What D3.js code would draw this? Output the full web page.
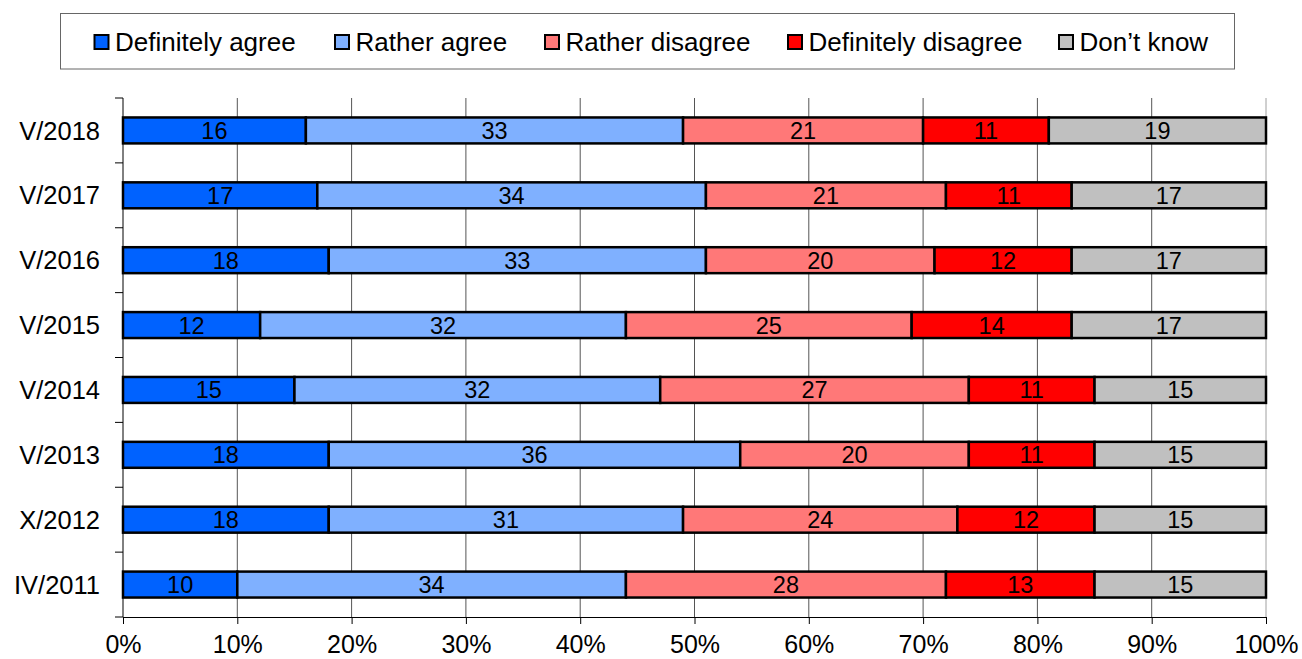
<!DOCTYPE html>
<html>
<head>
<meta charset="utf-8">
<script src="https://cdn.jsdelivr.net/npm/d3@7"></script>
<style>
  body { margin: 0; background: #fff; }
  svg { display: block; font-family: "Liberation Sans", Arial, sans-serif; }
</style>
</head>
<body>
<svg id="chart" width="1302" height="659"></svg>
<script>
// Survey waves, top to bottom
const periods = ["V/2018", "V/2017", "V/2016", "V/2015", "V/2014", "V/2013", "X/2012", "IV/2011"];

// Answer categories and their fill colours
const answers = ["Definitely agree", "Rather agree", "Rather disagree", "Definitely disagree", "Don\u2019t know"];
const colors = ["#0062ff", "#7fb0ff", "#ff7878", "#ff0000", "#c0c0c0"];

// Shares (%) per wave, one array per answer
const definitelyAgree    = [16, 17, 18, 12, 15, 18, 18, 10];
const ratherAgree        = [33, 34, 33, 32, 32, 36, 31, 34];
const ratherDisagree     = [21, 21, 20, 25, 27, 20, 24, 28];
const definitelyDisagree = [11, 11, 12, 14, 11, 11, 12, 13];
const dontKnow           = [19, 17, 17, 17, 15, 15, 15, 15];

const xTicks = [0, 10, 20, 30, 40, 50, 60, 70, 80, 90, 100];

const seriesValues = [definitelyAgree, ratherAgree, ratherDisagree, definitelyDisagree, dontKnow];
const rows = periods.map((p, i) => {
  const r = { period: p };
  answers.forEach((a, k) => { r[a] = seriesValues[k][i]; });
  return r;
});

const svg = d3.select("#chart");
const margin = { left: 123, right: 36, top: 98, bottom: 42 };
const W = 1302, H = 659;

const x = d3.scaleLinear().domain([0, 100]).range([margin.left, W - margin.right]);
const y = d3.scaleBand().domain(periods).range([margin.top, H - margin.bottom]).paddingInner(0.6).paddingOuter(0.3);
const yb = d3.scaleBand().domain(periods).range([margin.top, H - margin.bottom]);

// Vertical gridlines
svg.append("g")
  .selectAll("line")
  .data(xTicks.slice(1))
  .join("line")
  .attr("x1", d => x(d)).attr("x2", d => x(d))
  .attr("y1", margin.top).attr("y2", H - margin.bottom)
  .attr("stroke", d => d === 100 ? "#a0a0a0" : "#555")
  .attr("stroke-width", 1);

// Stacked bars
const stack = d3.stack().keys(answers)(rows);
const layer = svg.append("g").selectAll("g")
  .data(stack)
  .join("g")
  .attr("fill", (d, i) => colors[i]);

layer.selectAll("rect")
  .data(d => d)
  .join("rect")
  .attr("x", d => x(d[0]))
  .attr("y", d => y(d.data.period))
  .attr("width", d => x(d[1]) - x(d[0]))
  .attr("height", y.bandwidth())
  .attr("stroke", "#000")
  .attr("stroke-width", 2.5);

// Value labels in each segment
layer.selectAll("text")
  .data(d => d.map(v => ({ v, key: d.key })))
  .join("text")
  .attr("x", d => (x(d.v[0]) + x(d.v[1])) / 2)
  .attr("y", d => y(d.v.data.period) + y.bandwidth() / 2)
  .attr("dy", "0.36em")
  .attr("text-anchor", "middle")
  .attr("fill", "#000")
  .attr("font-size", 23.5)
  .text(d => d.v.data[d.key]);

// Y axis
const yAxis = svg.append("g");
yAxis.append("line")
  .attr("x1", margin.left).attr("x2", margin.left)
  .attr("y1", margin.top).attr("y2", H - margin.bottom)
  .attr("stroke", "#000");
yAxis.selectAll("line.tick")
  .data(periods.map(p => yb(p)).concat([H - margin.bottom]))
  .join("line")
  .attr("class", "tick")
  .attr("x1", margin.left - 8).attr("x2", margin.left)
  .attr("y1", d => d).attr("y2", d => d)
  .attr("stroke", "#000");
yAxis.selectAll("text")
  .data(periods)
  .join("text")
  .attr("x", 100)
  .attr("y", d => yb(d) + yb.bandwidth() / 2)
  .attr("dy", "0.36em")
  .attr("text-anchor", "end")
  .attr("font-size", 25.5)
  .text(d => d);

// X axis
const xAxis = svg.append("g")
  .attr("transform", `translate(0,${H - margin.bottom})`)
  .call(d3.axisBottom(x).tickValues(xTicks).tickFormat(d => d + "%").tickSize(7).tickPadding(11));
xAxis.select(".domain").attr("stroke", "#000");
xAxis.selectAll(".tick line").attr("stroke", "#000");
xAxis.selectAll("text")
  .attr("font-size", 25)
  .attr("font-family", "'Liberation Sans', Arial, sans-serif")
  .attr("fill", "#000");

// Legend
const legend = svg.append("g");
legend.append("rect")
  .attr("x", 60.5).attr("y", 13.5)
  .attr("width", 1174).attr("height", 55.5)
  .attr("fill", "#fff")
  .attr("stroke", "#666");
const legendX = [94.5, 335, 545, 788, 1059];
const item = legend.selectAll("g.item")
  .data(answers)
  .join("g")
  .attr("class", "item")
  .attr("transform", (d, i) => `translate(${legendX[i]},42)`);
item.append("rect")
  .attr("x", 0).attr("y", -7)
  .attr("width", 14).attr("height", 14)
  .attr("fill", (d, i) => colors[i])
  .attr("stroke", "#000")
  .attr("stroke-width", 2);
item.append("text")
  .attr("x", 20.5)
  .attr("dy", "0.36em")
  .attr("font-size", 26)
  .text(d => d);
</script>
</body>
</html>
